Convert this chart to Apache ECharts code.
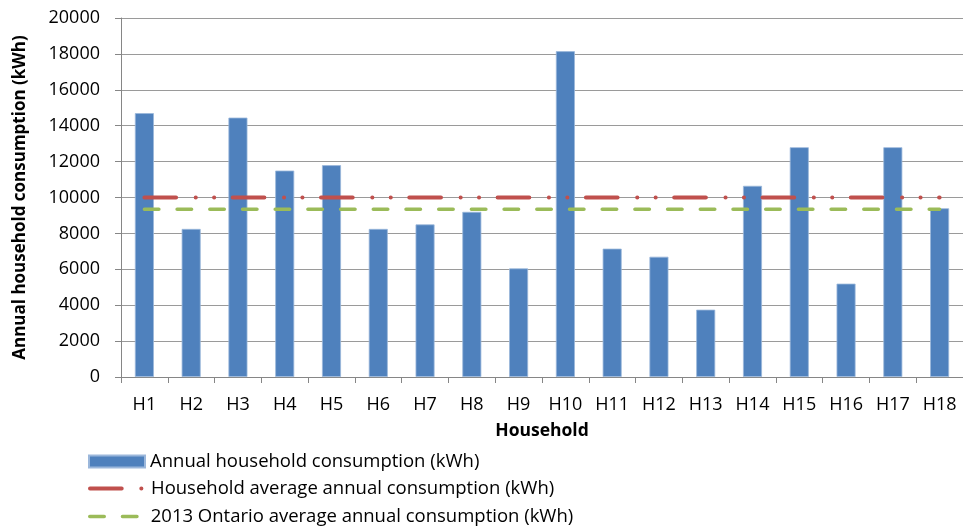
<!DOCTYPE html>
<html><head><meta charset="utf-8">
<script src="https://cdn.jsdelivr.net/npm/echarts@6/dist/echarts.min.js"></script>
<style>html,body{margin:0;padding:0;background:#fff}#c{width:963px;height:526px}</style>
</head><body><div id="c"></div>
<script>
const categories = ['H1','H2','H3','H4','H5','H6','H7','H8','H9','H10','H11','H12','H13','H14','H15','H16','H17','H18'];
const consumption = [14700,8250,14450,11500,11800,8250,8500,9200,6050,18150,7150,6700,3750,10650,12800,5200,12800,9400];
const householdAvg = 10000;
const ontarioAvg = 9350;
const yTicks = {min:0, max:20000, interval:2000};
const names = ['Annual household consumption (kWh)','Household average annual consumption (kWh)','2013 Ontario average annual consumption (kWh)'];

const FONT = "'Open Sans', 'Liberation Sans', sans-serif";
const legendRowsTop = [452, 479, 507];
const legendLineW = [0, 4, 3.5];
function mkLegend(i){
  const item = i===0 ? {name:names[i], icon:'rect'} :
    {name:names[i], itemStyle:{opacity:0}, lineStyle:{width:legendLineW[i]}};
  return {
    orient:'horizontal', left:88, top:legendRowsTop[i], itemWidth:56, itemHeight:12, itemGap:5,
    padding:[0,0,0,0],
    textStyle:{fontFamily:FONT, fontSize:18.5, color:'#000', padding:[0,0,0,0]},
    data:[item]
  };
}
const chart = echarts.init(document.getElementById('c'), null, {renderer:'canvas'});
chart.setOption({
  animation:false,
  textStyle:{fontFamily:FONT},
  grid:{left:121, right:0, top:18, bottom:149},
  legend:[mkLegend(0), mkLegend(1), mkLegend(2)],
  xAxis:{
    type:'category', data:categories,
    name:'Household', nameLocation:'middle', nameGap:45,
    nameTextStyle:{fontFamily:FONT, fontWeight:'bold', fontSize:17.5, color:'#000'},
    axisLine:{lineStyle:{color:'#868686', width:1}},
    axisTick:{show:true, length:6, lineStyle:{color:'#868686'}},
    axisLabel:{color:'#000', fontSize:18, margin:19, fontFamily:FONT}
  },
  yAxis:{
    type:'value', min:yTicks.min, max:yTicks.max, interval:yTicks.interval,
    name:'Annual household consumption (kWh)', nameLocation:'middle', nameGap:92,
    nameTextStyle:{fontFamily:FONT, fontWeight:'bold', fontSize:17, color:'#000'},
    axisLine:{show:true, lineStyle:{color:'#868686', width:1}},
    axisTick:{show:true, length:6, lineStyle:{color:'#868686'}},
    axisLabel:{color:'#000', fontSize:18, margin:21, fontFamily:FONT, formatter:(v)=>String(v)},
    splitLine:{lineStyle:{color:'#9a9a9a', width:1}}
  },
  series:[
    {name:names[0], type:'bar', data:consumption, barWidth:19,
     itemStyle:{color:'#4F81BD', borderColor:'#9bb7db', borderWidth:0.8}},
    {name:names[1], type:'line', data:categories.map(()=>householdAvg), symbol:'none', z:3,
     lineStyle:{color:'#C0504D', width:4, cap:'round', type:[31.7,19.6,0.1,18.3,0.1,18.5]},
     itemStyle:{color:'#C0504D'}},
    {name:names[2], type:'line', data:categories.map(()=>ontarioAvg), symbol:'none', z:3,
     lineStyle:{color:'#9BBB59', width:3.5, cap:'round', type:[14.5,18.2]},
     itemStyle:{color:'#9BBB59'}}
  ]
});
</script></body></html>
